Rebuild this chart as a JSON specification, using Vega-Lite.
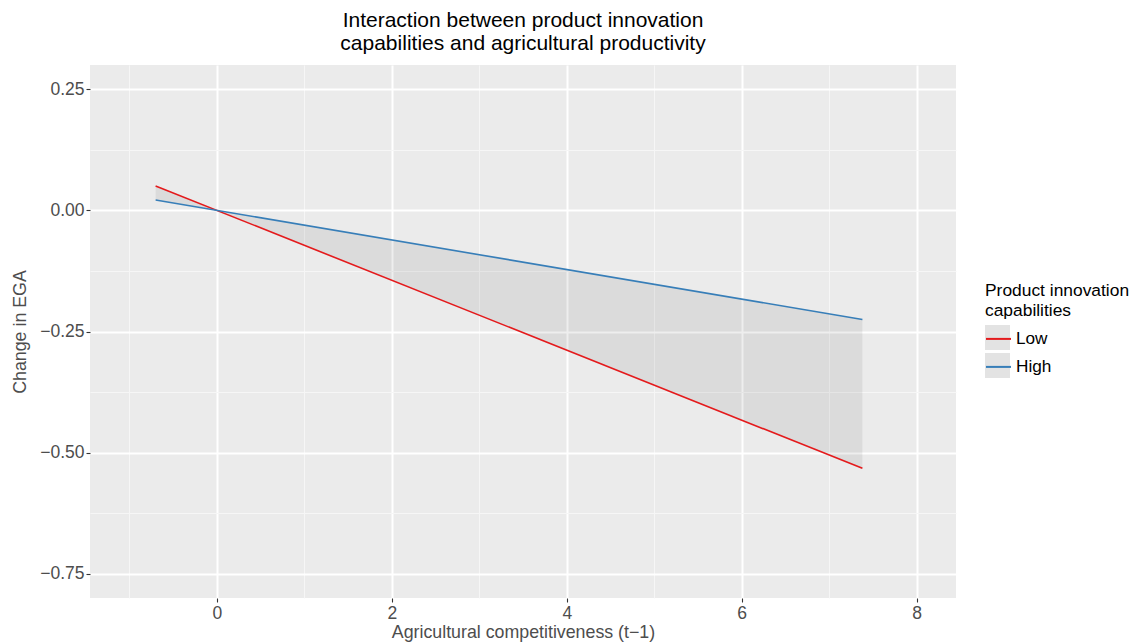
{
  "$schema": "https://vega.github.io/schema/vega-lite/v6.json",
  "width": 866,
  "height": 533,
  "autosize": {"type": "none"},
  "padding": {"left": 90, "top": 65, "right": 179, "bottom": 45},
  "background": "white",
  "title": {
    "text": ["Interaction between product innovation", "capabilities and agricultural productivity"],
    "font": "Liberation Sans",
    "fontSize": 21,
    "fontWeight": "normal",
    "color": "#000000",
    "anchor": "middle",
    "lineHeight": 23,
    "offset": 11
  },
  "datasets": {
    "lines": [
      {"x": -0.70, "y": 0.0505, "group": "Low"},
      {"x": 7.38, "y": -0.5324, "group": "Low"},
      {"x": -0.70, "y": 0.0213, "group": "High"},
      {"x": 7.38, "y": -0.2252, "group": "High"}
    ],
    "ribbon": [
      {"x": -0.70, "lo": 0.0213, "hi": 0.0505},
      {"x": 0.0, "lo": 0.0, "hi": 0.0},
      {"x": 7.38, "lo": -0.5324, "hi": -0.2252}
    ]
  },
  "config": {
    "view": {"fill": "#ebebeb", "stroke": null},
    "axis": {
      "domain": false,
      "labelFont": "Liberation Sans",
      "labelFontSize": 17.5,
      "labelColor": "#4d4d4d",
      "tickColor": "#333333",
      "tickSize": 4,
      "tickWidth": 1.1,
      "labelPadding": 2,
      "titleFont": "Liberation Sans",
      "titleFontSize": 17.8,
      "titleFontWeight": "normal",
      "titleColor": "#4d4d4d",
      "gridColor": "#ffffff"
    },
    "legend": {
      "titleFont": "Liberation Sans",
      "labelFont": "Liberation Sans"
    }
  },
  "resolve": {"axis": {"x": "independent", "y": "independent"}},
  "layer": [
    {
      "data": {"name": "ribbon"},
      "mark": {"type": "area", "color": "#000000", "opacity": 0.065},
      "encoding": {
        "x": {
          "field": "x",
          "type": "quantitative",
          "scale": {"domain": [-1.45, 8.45], "nice": false, "zero": false},
          "axis": {
            "orient": "bottom",
            "values": [0, 2, 4, 6, 8],
            "format": "d",
            "grid": true,
            "gridWidth": 2,
            "title": "Agricultural competitiveness (t−1)",
            "titlePadding": 2
          }
        },
        "y": {
          "field": "lo",
          "type": "quantitative",
          "scale": {"domain": [-0.8, 0.3], "nice": false, "zero": false},
          "axis": {
            "orient": "left",
            "values": [-0.75, -0.5, -0.25, 0, 0.25],
            "format": ".2f",
            "grid": true,
            "gridWidth": 2,
            "title": "Change in EGA",
            "titlePadding": 10
          }
        },
        "y2": {"field": "hi"}
      }
    },
    {
      "data": {"name": "lines"},
      "mark": {"type": "line", "strokeWidth": 1.6},
      "encoding": {
        "x": {
          "field": "x",
          "type": "quantitative",
          "axis": {
            "orient": "top",
            "values": [-1, 1, 3, 5, 7],
            "grid": true,
            "gridWidth": 1,
            "gridColor": "#f6f6f6",
            "labels": false,
            "ticks": false,
            "title": null
          }
        },
        "y": {
          "field": "y",
          "type": "quantitative",
          "axis": {
            "orient": "right",
            "values": [0.125, -0.125, -0.375, -0.625],
            "grid": true,
            "gridWidth": 1,
            "gridColor": "#f6f6f6",
            "labels": false,
            "ticks": false,
            "title": null
          }
        },
        "stroke": {
          "field": "group",
          "type": "nominal",
          "scale": {"domain": ["Low", "High"], "range": ["#e41a1c", "#377eb8"]},
          "legend": {
            "orient": "none",
            "legendX": 895,
            "legendY": 217,
            "title": ["Product innovation", "capabilities"],
            "titleFontSize": 17.4,
            "titleFontWeight": "normal",
            "titleColor": "#000000",
            "titleLineHeight": 20,
            "titlePadding": 6,
            "symbolType": "stroke",
            "symbolSize": 625,
            "symbolStrokeWidth": 2,
            "labelFontSize": 17.2,
            "labelColor": "#000000",
            "labelOffset": 4,
            "rowPadding": 6,
            "zindex": 1
          }
        }
      }
    },
    {
      "data": {"name": "lines"},
      "mark": {"type": "point", "opacity": 0, "filled": true},
      "encoding": {
        "x": {"field": "x", "type": "quantitative", "axis": null},
        "y": {"field": "y", "type": "quantitative", "axis": null},
        "fill": {
          "field": "group",
          "type": "nominal",
          "scale": {"range": ["#e3e3e3", "#e3e3e3"]},
          "legend": {
            "orient": "none",
            "legendX": 895,
            "legendY": 260,
            "title": null,
            "symbolType": "square",
            "symbolSize": 625,
            "symbolOpacity": 1,
            "symbolStrokeWidth": 0,
            "labelExpr": "''",
            "labelFontSize": 15,
            "labelOffset": 4,
            "rowPadding": 3,
            "zindex": 0
          }
        }
      }
    }
  ]
}
